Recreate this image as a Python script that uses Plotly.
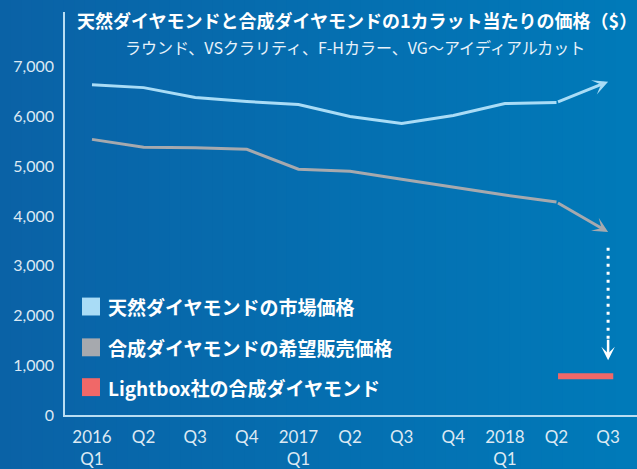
import plotly.graph_objects as go

# ---- data ----
categories = ["2016<br>Q1", "Q2", "Q3", "Q4", "2017<br>Q1", "Q2", "Q3", "Q4", "2018<br>Q1", "Q2", "Q3"]
natural = [6640, 6580, 6380, 6300, 6240, 6000, 5860, 6020, 6260, 6280, 6700]
synthetic = [5540, 5380, 5370, 5340, 4940, 4900, 4740, 4580, 4420, 4280, 3680]
lightbox_price = 780
drop_from = 3360
drop_to = 1100
y_ticks = [0, 1000, 2000, 3000, 4000, 5000, 6000, 7000]

legend_labels = ["天然ダイヤモンドの市場価格", "合成ダイヤモンドの希望販売価格", "Lightbox社の合成ダイヤモンド"]
title_text = "天然ダイヤモンドと合成ダイヤモンドの1カラット当たりの価格（$）"
subtitle_text = "ラウンド、VSクラリティ、F-Hカラー、VG〜アイディアルカット"

C_NAT = "#a9dcf6"
C_SYN = "#a6a9ae"
C_RED = "#f06868"
JP = "Noto Sans CJK JP"
NUM = "Lato, Open Sans, sans-serif"
TICKC = "#dce9f3"

W, H = 637, 469
ML, MR, MT, MB = 65, 0, 12, 52
PW, PH = W - ML - MR, H - MT - MB

def px(xp):
    return (xp - ML) / PW

def py(yp):
    return (H - MB - yp) / PH

xi = list(range(len(categories)))
n = len(categories)

fig = go.Figure()

fig.add_trace(go.Scatter(x=xi[:-1], y=natural[:-1], mode="lines",
                         line=dict(color=C_NAT, width=3), hoverinfo="skip", showlegend=False))
fig.add_trace(go.Scatter(x=xi[:-1], y=synthetic[:-1], mode="lines",
                         line=dict(color=C_SYN, width=3), hoverinfo="skip", showlegend=False))
fig.add_trace(go.Scatter(x=[n - 1.97, n - 0.9], y=[lightbox_price, lightbox_price], mode="lines",
                         line=dict(color=C_RED, width=6), hoverinfo="skip", showlegend=False))
fig.add_trace(go.Scatter(x=[n - 1, n - 1], y=[drop_from, drop_to + 420], mode="lines",
                         line=dict(color="white", width=3, dash="3px,5px"), hoverinfo="skip", showlegend=False))

annotations = []
for series, col in ((natural, C_NAT), (synthetic, C_SYN)):
    annotations.append(dict(x=xi[-1], y=series[-1], ax=xi[-2], ay=series[-2],
                            xref="x", yref="y", axref="x", ayref="y", text="",
                            showarrow=True, arrowhead=3, arrowsize=0.85, arrowwidth=3,
                            arrowcolor=col, standoff=0))
annotations.append(dict(x=xi[-1], y=drop_to, ax=0, ay=-22, xref="x", yref="y",
                        text="", showarrow=True, arrowhead=3, arrowsize=0.9, arrowwidth=2.5,
                        arrowcolor="white", standoff=0))

annotations.append(dict(x=px(75), y=py(20), xref="paper", yref="paper", xanchor="left", yanchor="middle",
                        text="<b>" + title_text + "</b>", showarrow=False,
                        font=dict(family=JP, size=18, color="white")))
annotations.append(dict(x=px(355), y=py(47), xref="paper", yref="paper", xanchor="center", yanchor="middle",
                        text=subtitle_text, showarrow=False,
                        font=dict(family=JP, size=16, color="#e8f2fa")))

shapes = []
steps = 60
c0 = (10, 98, 166)
c1 = (0, 122, 185)
for i in range(steps):
    t = i / (steps - 1)
    c = tuple(round(c0[k] + (c1[k] - c0[k]) * t) for k in range(3))
    x0 = px(W * i / steps)
    x1 = px(W * (i + 1) / steps + 1)
    shapes.append(dict(type="rect", xref="paper", yref="paper", x0=x0, x1=x1, y0=py(H + 2), y1=py(-2),
                       fillcolor="rgb(%d,%d,%d)" % c, line=dict(width=0), layer="below"))

rows = [308, 349, 389]
for lab, col, yy in zip(legend_labels, [C_NAT, C_SYN, C_RED], rows):
    shapes.append(dict(type="rect", xref="paper", yref="paper", x0=px(82), x1=px(100),
                       y0=py(yy + 9), y1=py(yy - 9), fillcolor=col, line=dict(width=0)))
    annotations.append(dict(x=px(106), y=py(yy), xref="paper", yref="paper", xanchor="left", yanchor="middle",
                            text="<b>" + lab + "</b>", showarrow=False,
                            font=dict(family=JP, size=19, color="white")))

fig.update_layout(
    width=W, height=H,
    margin=dict(l=ML, r=MR, t=MT, b=MB, pad=0),
    paper_bgcolor="rgb(6,108,174)", plot_bgcolor="rgba(0,0,0,0)",
    showlegend=False,
    shapes=shapes, annotations=annotations,
    xaxis=dict(range=[-0.523, 10.56], tickmode="array", tickvals=xi, ticktext=categories,
               showgrid=False, zeroline=False, showline=True, linecolor="#b9ddf2", linewidth=1.5,
               ticks="outside", ticklen=6, tickcolor="rgba(0,0,0,0)",
               tickfont=dict(family=NUM, size=17, color=TICKC), fixedrange=True),
    yaxis=dict(range=[0, 8100], tickmode="array", tickvals=y_ticks,
               tickformat=",d", showgrid=False, zeroline=False, showline=True, linecolor="#b9ddf2",
               linewidth=1.5, ticks="outside", ticklen=6, tickcolor="rgba(0,0,0,0)",
               tickfont=dict(family=NUM, size=16, color=TICKC), fixedrange=True),
)

fig.write_html("out.html")
